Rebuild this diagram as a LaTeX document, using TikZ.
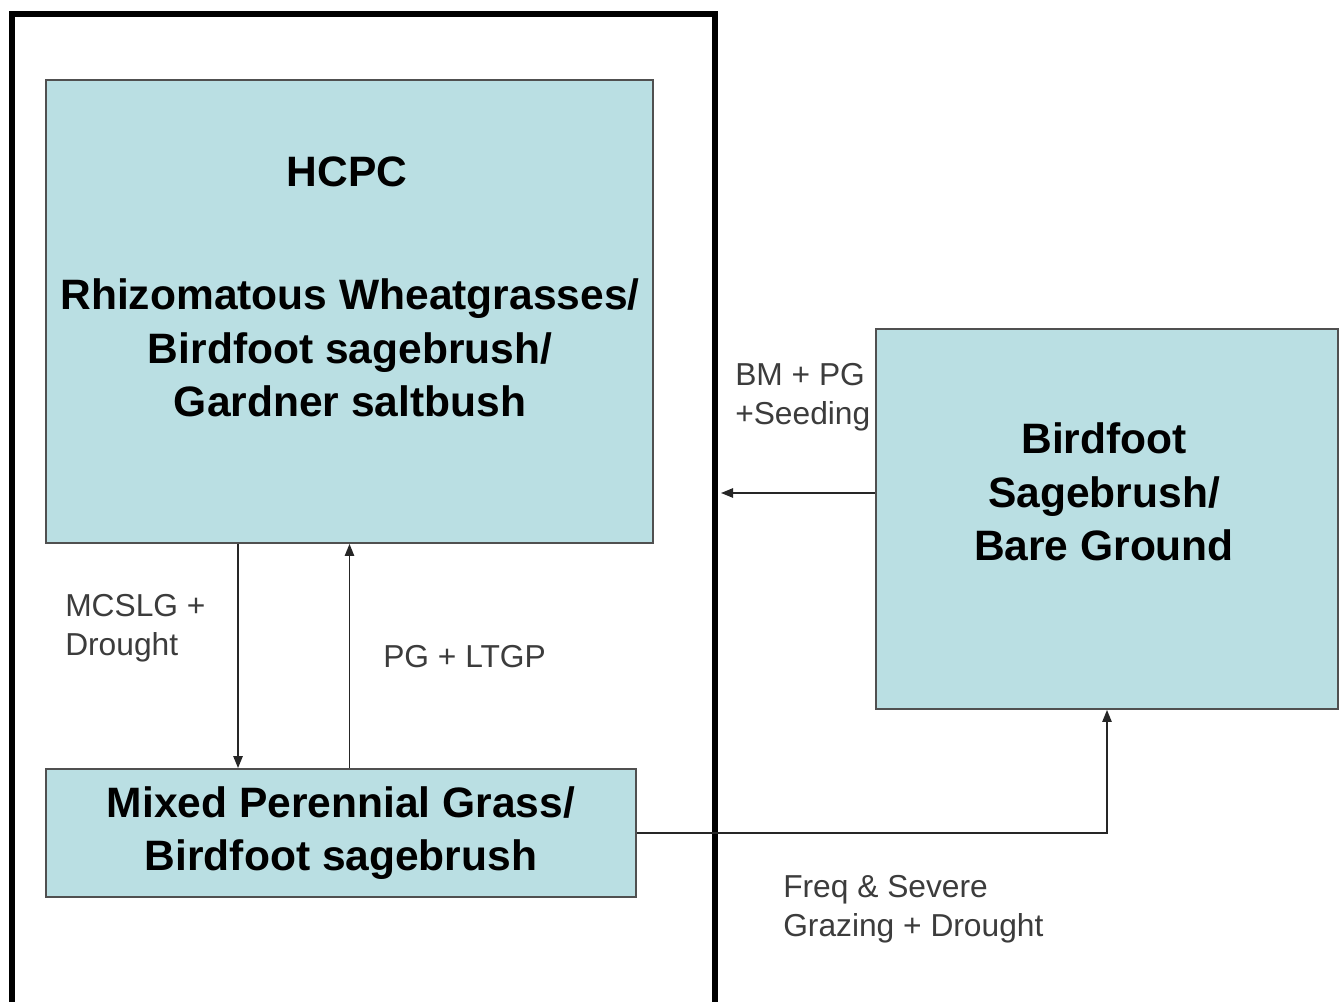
\documentclass[tikz,border=0pt]{standalone}
\usepackage{fontspec}
\setmainfont{Liberation Sans}
\usetikzlibrary{arrows.meta}
\definecolor{boxfill}{RGB}{186,223,227}
\definecolor{boxline}{RGB}{80,80,80}
\definecolor{labelgray}{RGB}{60,60,60}
\begin{document}
\begin{tikzpicture}[x=0.75pt,y=-0.75pt,
  statebox/.style={draw=boxline, line width=1.4pt, fill=boxfill, inner sep=0pt},
  boldtext/.style={font=\fontsize{31.9}{40}\selectfont\bfseries, align=center, inner sep=0pt},
  lbl/.style={font=\fontsize{23.8}{29.5}\selectfont, text=labelgray, align=left, anchor=west, inner sep=0pt},
  conn/.style={draw=black!85, line width=1.2pt},
  tip/.style={-{Triangle[length=9pt,width=7pt]}}
]
\useasboundingbox (0,0) rectangle (1343,1002);
\fill[white] (0,0) rectangle (1343,1002);
% outer thick frame
\node[draw=black, line width=4.5pt, minimum width=527.25pt, minimum height=747pt, inner sep=0pt] (outer) at (363.5,512) {};
% state boxes
\node[statebox, minimum width=455.25pt, minimum height=347.25pt] (hcpc) at (349.5,311.5) {};
\node[statebox, minimum width=442.5pt, minimum height=96pt, boldtext] (mixed) at (341,833) {Mixed Perennial Grass/\\Birdfoot sagebrush};
\node[statebox, minimum width=346.5pt, minimum height=285pt] (bg) at (1107,519) {};
% box texts
\node[boldtext] (hcpctitle) at (347,172) {HCPC};
\node[boldtext] (hcpctext) at (350,348) {Rhizomatous Wheatgrasses/\\Birdfoot sagebrush/\\Gardner saltbush};
\node[boldtext] (bgtext) at (1104,492) {Birdfoot\\Sagebrush/\\Bare Ground};
% connectors
\coordinate (dtop) at ([xshift=-83.6pt]hcpc.south);
\draw[conn,tip] (dtop) -- (dtop |- mixed.north);
\coordinate (ubot) at (mixed.north -| hcpc.south);
\draw[conn,tip] (ubot) -- (hcpc.south);
\coordinate (bgout) at ([yshift=19.5pt]bg.west);
\coordinate (frameR) at ([xshift=2.25pt]outer.east);
\draw[conn,tip] (bgout) -- (frameR |- bgout);
\draw[conn,tip] (mixed.east) -| (bg.south);
% labels
\node[lbl] (l1) at (65,628) {MCSLG +\\Drought};
\node[lbl] (l2) at (383,657) {PG + LTGP};
\node[lbl] (l3) at (735,397) {BM + PG\\+Seeding};
\node[lbl] (l4) at (783,909) {Freq \& Severe\\Grazing + Drought};
\end{tikzpicture}
\end{document}
